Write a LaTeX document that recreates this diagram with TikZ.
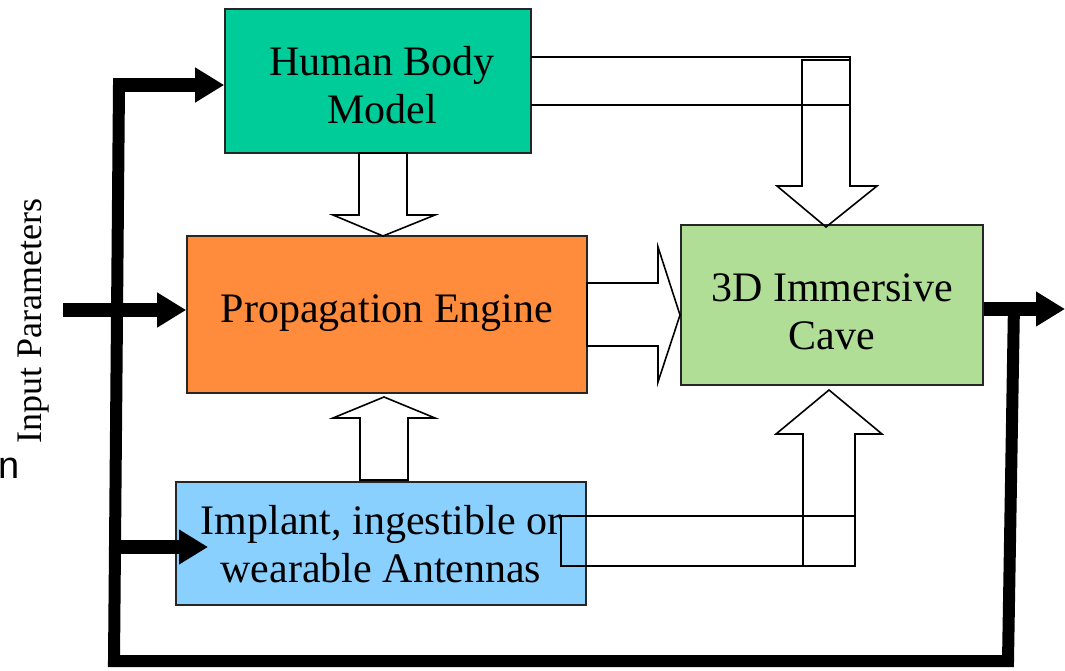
\documentclass[tikz,border=0pt]{standalone}
\usepackage{fontspec}
\setmainfont{Liberation Serif}
\newfontfamily\sansf{Liberation Sans}
\usetikzlibrary{arrows.meta}
\definecolor{hbmc}{RGB}{0,204,153}
\definecolor{pec}{RGB}{255,139,61}
\definecolor{cavec}{RGB}{176,222,150}
\definecolor{antc}{RGB}{138,208,255}
\begin{document}
\begin{tikzpicture}[x=1pt,y=-1pt,
  box/.style={draw=black!85, line width=1.6pt, inner sep=0pt},
  txt/.style={inner sep=0pt, align=center, font=\fontsize{42}{48}\selectfont},
  blk/.style={draw=black, line width=1.6pt, line join=miter},
  loopline/.style={line width=12pt, line join=miter},
  bigarrow/.style={line width=14pt, -{Triangle[length=29pt,width=33pt]}}]
\useasboundingbox (0,0) rectangle (1065,670);

% boxes
\node[box, fill=hbmc, minimum width=306pt, minimum height=144pt] (hbm) at (378,81) {};
\node[box, fill=pec, minimum width=400pt, minimum height=157pt] (pe) at (387,314.5) {};
\node[box, fill=cavec, minimum width=302pt, minimum height=160pt] (cave) at (832,305) {};
\node[box, fill=antc, minimum width=410pt, minimum height=123pt] (ant) at (381,543.5) {};

\node[txt] (hbmt) at ([xshift=4pt,yshift=-4pt]hbm.center) {Human Body\\Model};
\node[txt] (pet) at ([yshift=1pt]pe.center) {Propagation Engine};
\node[txt] (cavet) at ([yshift=-7pt]cave.center) {3D Immersive\\Cave};
\node[txt] (antt) at ([yshift=-1pt]ant.center) {Implant, ingestible or\\wearable Antennas};

% side texts
\node[rotate=90, inner sep=0pt, font=\fontsize{36}{40}\selectfont] (ip) at (34,321) {Input Parameters};
\node[anchor=base east, inner sep=0pt, font=\sansf\fontsize{38}{40}\selectfont] (nn) at (20,478) {n};

% straight block arrows
\draw[blk, fill=white] (359,153) -- (407,153) -- (407,215) -- (435,215) -- (383,236) -- (333,215) -- (359,215) -- cycle;
\draw[blk, fill=white] (360,480) -- (360,418) -- (333,418) -- (384,397) -- (435,418) -- (408,418) -- (408,480) -- cycle;
\draw[blk, fill=white] (587,283) -- (658,283) -- (658,247) -- (680,315) -- (658,382) -- (658,346) -- (587,346) -- cycle;

% bent block arrow: human body model -> cave
\draw[blk] (531,57) -- (850,57) -- (850,105) -- (531,105);
\draw[blk] (802,60) -- (850,60) -- (850,186) -- (877,186) -- (826,227) -- (777,186) -- (802,186) -- cycle;

% bent block arrow: antennas -> cave
\draw[blk] (561,516) rectangle (855,566);
\draw[blk] (803,566) -- (803,434) -- (776,434) -- (829,390) -- (882,434) -- (855,434) -- (855,566) -- cycle;

% feedback loop
\coordinate (rtop) at (1014,303);
\coordinate (rbot) at (1008,661);
\coordinate (lbot) at (114,661);
\coordinate (ltop) at (119,85);
\coordinate (lmid) at (116,547);
\coordinate (antin) at (208,547);
\coordinate (inp) at (63,310);
\coordinate (outp) at (1065,309);
\coordinate (ltop2) at (113,85);

\draw[loopline] (rtop) -- (rbot) -- (lbot) -- (ltop);
\draw[bigarrow] (ltop2) -- (hbm.west |- ltop2);
\draw[bigarrow] (lmid) -- (antin);
\draw[bigarrow] (inp) -- (pe.west |- inp);
\draw[bigarrow] (cave.east |- outp) -- (outp);
\end{tikzpicture}
\end{document}
